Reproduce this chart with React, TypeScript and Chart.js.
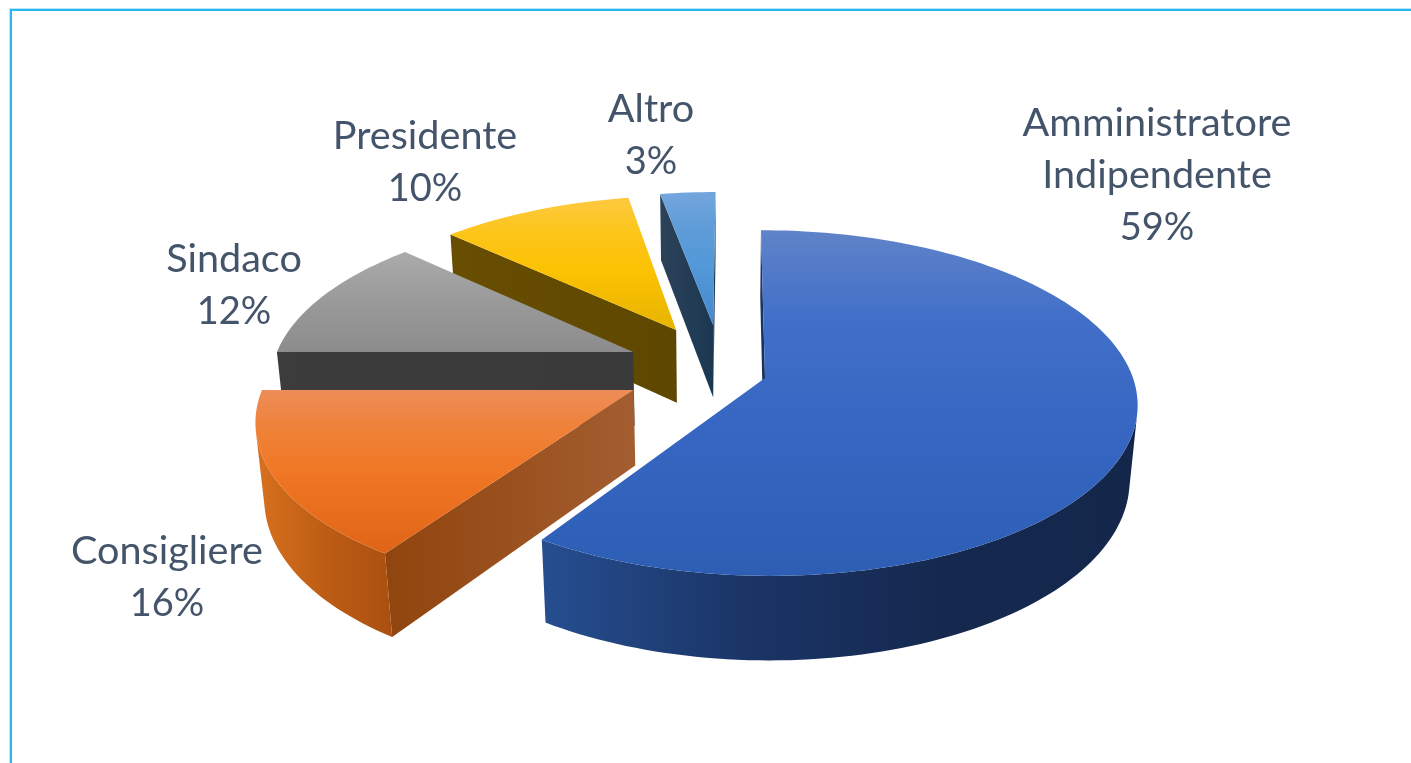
import React, { useEffect, useRef } from "react";
import { Chart, registerables } from "chart.js";

Chart.register(...registerables);

const categories = ["Amministratore Indipendente", "Consigliere", "Sindaco", "Presidente", "Altro"];
const shares = [59, 16, 12, 10, 3];

// Exploded position of each slice's tip on the pie's plane (unit = one radius)
const explode = [
  [0, 0],
  [-0.354, 0.07],
  [-0.3645, -0.157],
  [-0.248, -0.2957],
  [-0.1435, -0.3274],
];
const reach = [1, 1, 0.99, 0.98, 0.98];
// small corrections (degrees) of each slice's start / end edge
const startTrim = [0, 1.3, 0, 0, 0.3];
const endTrim = [0.5, 0, 0, 0.5, 0];
// top-face vertical gradient stops
const topStops = [
  ["#6083c9", "#4270c8", "#3767c3", "#2d5eb4"],
  ["#ee8c58", "#ef8137", "#f07522", "#df6417"],
  ["#ababab", "#a2a2a2", "#989898", "#8c8c8c"],
  ["#fdc940", "#fcc61c", "#fcc203", "#e6b400"],
  ["#74a6dd", "#609dd9", "#5398d8", "#4689d0"],
];
const arcWall = [
  ["#264e90", "#1b3567", "#15294f", "#14274b"],
  ["#d8711f", "#bd5d15", "#aa5010"],
  ["#3b3b3b", "#3b3b3b", "#3b3b3b"],
  ["#644b00", "#624a00", "#5f4800"],
  ["#2b4560", "#23405c", "#1c3a56"],
];
const radialWall = [
  ["#1d3a70", "#14294f"],
  ["#91450e", "#a35d30"],
  ["#3c3c3c", "#3a3a3a"],
  ["#684e02", "#5e4700"],
  ["#2c4259", "#1b3852"],
];
const labelAnchors = [
  [1157, 136],
  [167, 564],
  [234, 272],
  [425, 149],
  [651, 122],
];

const P = 0.145;
const project = (u: number, v: number) => {
  const w = 1 - P * v;
  return { x: 765 + (368 * u + 4.6 * v) / w, y: 378 + (169.2 * v) / w };
};
const lower = (p: { x: number; y: number }) => {
  const d = 72.5 + 0.048 * (p.y - 325);
  return { x: p.x + (d * (715 - p.x)) / (4400 - p.y), y: p.y + d };
};
type Pt = { x: number; y: number };
const facing = (a: Pt, b: Pt) => {
  const q = [a, b, lower(b), lower(a)];
  let s = 0;
  for (let i = 0; i < 4; i++) {
    const m = q[i];
    const n = q[(i + 1) % 4];
    s += m.x * n.y - n.x * m.y;
  }
  return s < 0;
};
const fillPoly = (ctx: CanvasRenderingContext2D, pts: Pt[], style: any) => {
  ctx.beginPath();
  pts.forEach((p, i) => (i ? ctx.lineTo(p.x, p.y) : ctx.moveTo(p.x, p.y)));
  ctx.closePath();
  ctx.fillStyle = style;
  ctx.fill();
};
const hGrad = (ctx: CanvasRenderingContext2D, pts: Pt[], stops: string[]) => {
  const xs = pts.map((p) => p.x);
  const g = ctx.createLinearGradient(Math.min(...xs), 0, Math.max(...xs), 0);
  stops.forEach((c, i) => g.addColorStop(i / (stops.length - 1), c));
  return g;
};

const pie3d = {
  id: "pie3d",
  beforeDatasetsDraw(chart: any) {
    const ctx: CanvasRenderingContext2D = chart.ctx;
    const meta = chart.getDatasetMeta(0);
    const order = meta.data.map((_: any, i: number) => i).reverse();
    for (const i of order) {
      const el = meta.data[i];
      const props = el.getProps(["startAngle", "endAngle"], true);
      const startAngle = props.startAngle + (startTrim[i] * Math.PI) / 180;
      const endAngle = props.endAngle + (endTrim[i] * Math.PI) / 180;
      const [cu, cv] = explode[i];
      const r = reach[i];
      const n = Math.max(8, Math.ceil((endAngle - startAngle) * 40));
      const arc: Pt[] = [];
      for (let k = 0; k <= n; k++) {
        const a = startAngle + ((endAngle - startAngle) * k) / n;
        arc.push(project(cu + r * Math.cos(a), cv + r * Math.sin(a)));
      }
      const tip = project(cu, cv);

      // radial walls
      for (const [a, b] of [[tip, arc[0]], [arc[n], tip]] as Pt[][]) {
        if (facing(a, b)) {
          const poly = [a, b, lower(b), lower(a)];
          fillPoly(ctx, poly, hGrad(ctx, poly, radialWall[i]));
        }
      }
      // curved wall: contiguous front-facing runs
      let run: Pt[] = [];
      const flush = () => {
        if (run.length > 1) {
          const poly = [...run, ...run.map(lower).reverse()];
          fillPoly(ctx, poly, hGrad(ctx, poly, arcWall[i]));
        }
        run = [];
      };
      for (let k = 0; k < n; k++) {
        if (facing(arc[k], arc[k + 1])) {
          if (!run.length) run.push(arc[k]);
          run.push(arc[k + 1]);
        } else flush();
      }
      flush();

      // top face
      const face = [tip, ...arc];
      const ys = face.map((p) => p.y);
      const g = ctx.createLinearGradient(0, Math.min(...ys), 0, Math.max(...ys));
      const st = topStops[i];
      g.addColorStop(0, st[0]);
      g.addColorStop(0.25, st[1]);
      g.addColorStop(0.55, st[2]);
      g.addColorStop(1, st[3]);
      fillPoly(ctx, face, g);
    }

    // data labels
    const total = shares.reduce((a, b) => a + b, 0);
    ctx.fillStyle = "#44546a";
    ctx.textAlign = "center";
    ctx.textBaseline = "alphabetic";
    categories.forEach((c, i) => {
      const words = c.split(" ");
      ctx.font = "39.6px Lato";
      words.forEach((t, j) => ctx.fillText(t, labelAnchors[i][0], labelAnchors[i][1] + j * 52));
      ctx.font = "38px Lato";
      ctx.fillText(
        `${Math.round((shares[i] / total) * 100)}%`,
        labelAnchors[i][0],
        labelAnchors[i][1] + words.length * 52
      );
    });
    return false;
  },
};

export default function App() {
  const ref = useRef<HTMLCanvasElement>(null);
  useEffect(() => {
    const chart = new Chart(ref.current!, {
      type: "pie",
      data: { labels: categories, datasets: [{ data: shares }] },
      options: {
        animation: false,
        responsive: false,
        events: [],
        plugins: { legend: { display: false }, tooltip: { enabled: false }, title: { display: false } },
      },
      plugins: [pie3d],
    } as any);
    return () => chart.destroy();
  }, []);
  return (
    <div style={{ position: "fixed", inset: 0, overflow: "hidden", background: "#fff" }}>
      <canvas ref={ref} width={1411} height={763} style={{ position: "absolute", left: 0, top: 0 }} />
      <div
        style={{
          position: "absolute",
          left: 10,
          top: 9,
          width: 1500,
          height: 900,
          borderLeft: "2px solid #27b8f2",
          borderTop: "2px solid #27b8f2",
          boxShadow: "-1px -1px 0 #b9e8fb",
        }}
      />
    </div>
  );
}
